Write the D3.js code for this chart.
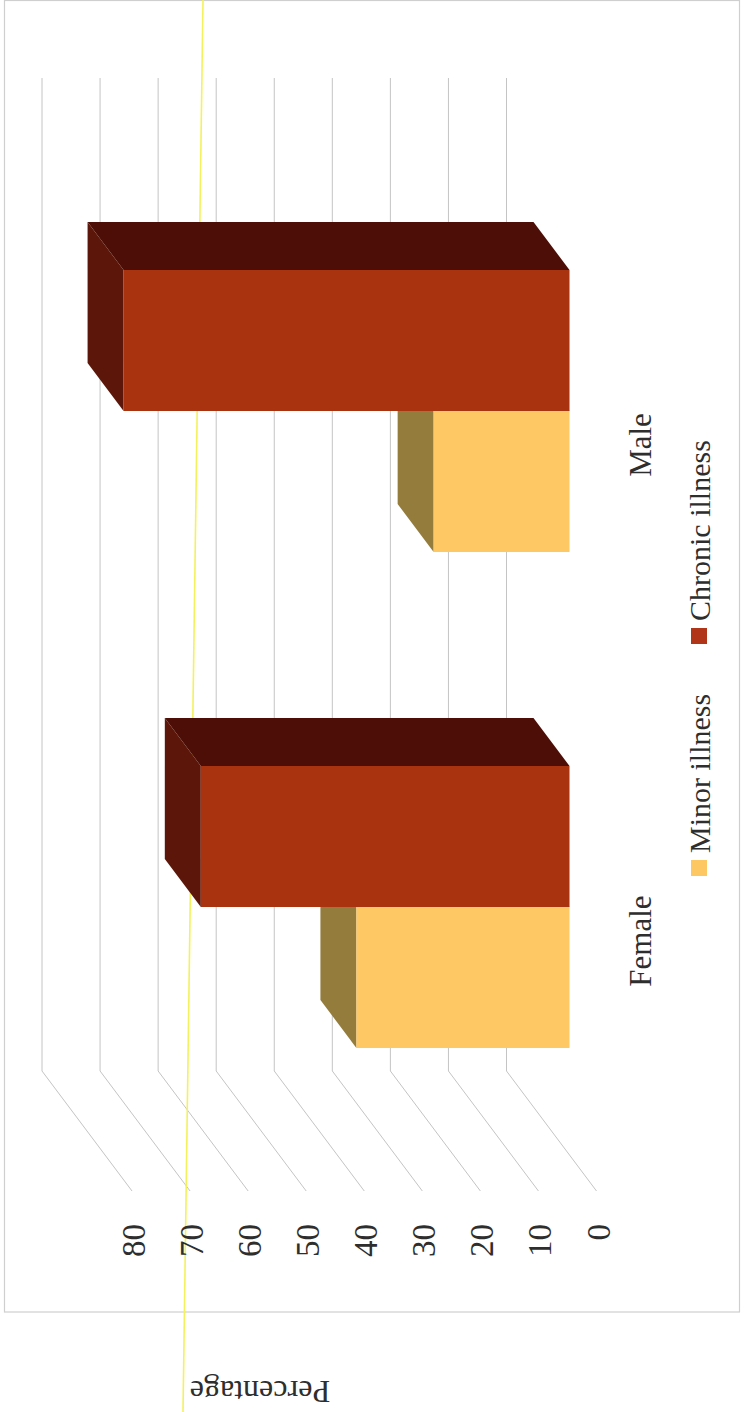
<!DOCTYPE html>
<html>
<head>
<meta charset="utf-8">
<script src="https://cdn.jsdelivr.net/npm/d3@7"></script>
<style>
  html, body { margin: 0; padding: 0; background: #fff; }
  svg { display: block; }
  text { font-family: "Liberation Serif", "Times New Roman", serif; fill: #2e2e2e; }
</style>
</head>
<body>
<svg id="chart" width="744" height="1412"></svg>
<script>
// Illness prevalence by sex (%)
const categories = ["Female", "Male"];
const seriesNames = ["Minor illness", "Chronic illness"];
const minorIllness = [36.7, 23.4];
const chronicIllness = [63.5, 76.8];
const valueTicks = [0, 10, 20, 30, 40, 50, 60, 70, 80];

const seriesValues = [minorIllness, chronicIllness];

const svg = d3.select("#chart");
const W = 744, H = 1412;

// 3D column chart, turned a quarter turn: values run right-to-left,
// categories run bottom-to-top, depth recedes toward the upper left.
const x = d3.scaleLinear().domain([0, 80]).range([506.5, 42]);
const cat = d3.scaleBand().domain(categories).range([1071, 79]);
const sub = d3.scaleBand().domain(seriesNames).range([cat.bandwidth(), 0])
  .paddingInner(0).paddingOuter(0.759);
const DEPTH = [90, 120];          // full floor depth vector
const barDepth = [0.3, 0.7];      // bar back / front planes

function P(v, c, d) { return [x(v) + d * DEPTH[0], c + d * DEPTH[1]]; }
const poly = pts => "M" + pts.map(p => p.join(",")).join("L") + "Z";

// chart frame
svg.append("rect")
  .attr("x", 4.5).attr("y", 0.5).attr("width", 735).attr("height", 1311.5)
  .attr("fill", "#fff").attr("stroke", "#cfcfcf").attr("stroke-width", 1.2);

// back wall and side wall gridlines
const grid = svg.append("g").attr("stroke", "#c4c4c4").attr("stroke-width", 1).attr("fill", "none");
const cTop = 79, cBottom = 1071;
valueTicks.forEach(t => {
  const a = P(t, cTop - 1, 0), b = P(t, cBottom, 0), f = P(t, cBottom, 1);
  grid.append("path").attr("d", `M${a[0]},${a[1]}L${b[0]},${b[1]}L${f[0]},${f[1]}`);
});

// thin highlighter stroke across the page
svg.append("line")
  .attr("x1", 203).attr("y1", 0).attr("x2", 183).attr("y2", H)
  .attr("stroke", "#f4f25c").attr("stroke-width", 1.6);

// bars
const faceColors = [
  { front: "#fec865", end: "#947c3c", side: "#8a7236" },
  { front: "#a9330f", end: "#5d170a", side: "#4c0e06" }
];
const bars = svg.append("g");
categories.forEach((k, ci) => {
  seriesNames.forEach((s, si) => {
    const v = seriesValues[si][ci];
    const c0 = cat(k) + sub(s), c1 = c0 + sub.bandwidth();
    const [d0, d1] = barDepth;
    const col = faceColors[si];
    const g = bars.append("g");
    // side face (toward top of page)
    g.append("path").attr("fill", col.side)
      .attr("d", poly([P(0, c0, d0), P(v, c0, d0), P(v, c0, d1), P(0, c0, d1)]));
    // end face (value end)
    g.append("path").attr("fill", col.end)
      .attr("d", poly([P(v, c0, d0), P(v, c1, d0), P(v, c1, d1), P(v, c0, d1)]));
    // front face
    g.append("path").attr("fill", col.front)
      .attr("d", poly([P(0, c0, d1), P(v, c0, d1), P(v, c1, d1), P(0, c1, d1)]));
  });
});

// value axis labels
valueTicks.forEach(t => {
  const p = P(t, cBottom, 1);
  svg.append("text")
    .attr("transform", `translate(${p[0] + 2},1224) rotate(-90)`)
    .attr("text-anchor", "end").attr("dominant-baseline", "central")
    .attr("font-size", 33).text(t);
});

// category labels
categories.forEach(k => {
  const p = P(0, cat(k) + cat.bandwidth() / 2, 1);
  svg.append("text")
    .attr("transform", `translate(640,${p[1] - 2}) rotate(-90)`)
    .attr("text-anchor", "middle").attr("dominant-baseline", "central")
    .attr("font-size", 31).text(k);
});

// legend
const legendItems = [
  { name: seriesNames[0], color: "#fdc864", sq: 860, txt: 853 },
  { name: seriesNames[1], color: "#b13519", sq: 628, txt: 621 }
];
legendItems.forEach(it => {
  svg.append("rect").attr("x", 691).attr("y", it.sq).attr("width", 16).attr("height", 16)
    .attr("fill", it.color);
  svg.append("text")
    .attr("transform", `translate(699,${it.txt}) rotate(-90)`)
    .attr("text-anchor", "start").attr("dominant-baseline", "central")
    .attr("font-size", 30).text(it.name);
});

// axis title
svg.append("text")
  .attr("transform", "translate(260,1392) rotate(180)")
  .attr("text-anchor", "middle").attr("dominant-baseline", "central")
  .attr("font-size", 32).text("Percentage");
</script>
</body>
</html>
